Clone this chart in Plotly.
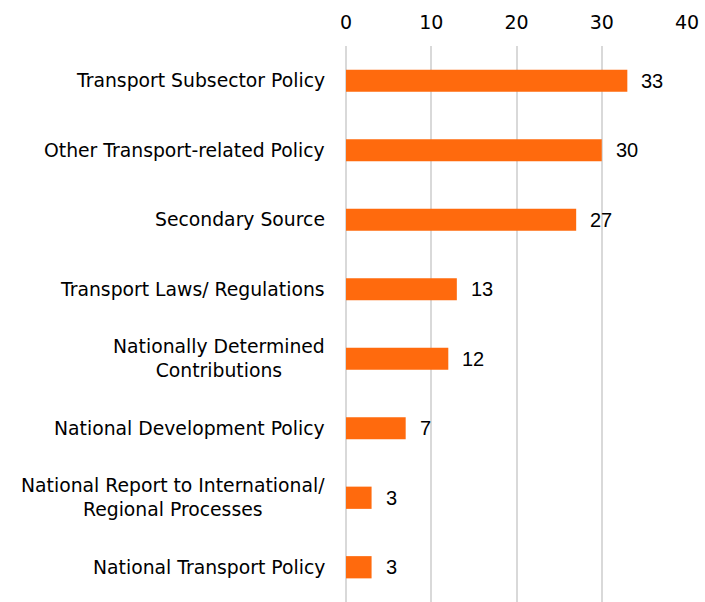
import plotly.graph_objects as go

categories = [
    "Transport Subsector Policy",
    "Other Transport-related Policy",
    "Secondary Source",
    "Transport Laws/ Regulations",
    "Nationally Determined<br>Contributions",
    "National Development Policy",
    "National Report to International/<br>Regional Processes",
    "National Transport Policy",
]
counts = [33, 30, 27, 13, 12, 7, 3, 3]
x_ticks = [0, 10, 20, 30, 40]

FONT = "DejaVu Sans"
VALUE_FONT = "Liberation Sans"
BAR_COLOR = "#FF6A0D"

fig = go.Figure(
    go.Bar(
        y=categories,
        x=counts,
        orientation="h",
        marker=dict(color=BAR_COLOR, line=dict(width=0)),
        width=0.32,
        hoverinfo="skip",
    )
)

annotations = []
for cat, val in zip(categories, counts):
    # value label to the right of each bar
    annotations.append(dict(
        x=val, y=cat, xref="x", yref="y", text=str(val),
        showarrow=False, xanchor="left", xshift=12,
        font=dict(family=VALUE_FONT, size=20, color="#000000"),
    ))
    # category label, lines centered on each other, right of the axis
    annotations.append(dict(
        x=0, y=cat, xref="paper", yref="y", text=cat,
        showarrow=False, xanchor="right", xshift=-19, align="center",
        font=dict(family=FONT, size=18.8, color="#000000"),
    ))

fig.update_layout(
    width=705, height=602,
    margin=dict(l=346, r=18, t=46, b=0),
    paper_bgcolor="white", plot_bgcolor="white",
    showlegend=False,
    annotations=annotations,
    xaxis=dict(
        side="top", range=[0, 40], tickvals=x_ticks,
        showgrid=True, gridcolor="#D9D9D9", gridwidth=1.5,
        zeroline=True, zerolinecolor="#D9D9D9", zerolinewidth=1.5,
        showline=False, ticks="",
        tickfont=dict(family=FONT, size=19, color="#000000"),
        ticklabelstandoff=12,
    ),
    yaxis=dict(
        autorange="reversed", showticklabels=False, showgrid=False,
        zeroline=False, showline=False, ticks="",
    ),
)

fig.write_html("out.html")
